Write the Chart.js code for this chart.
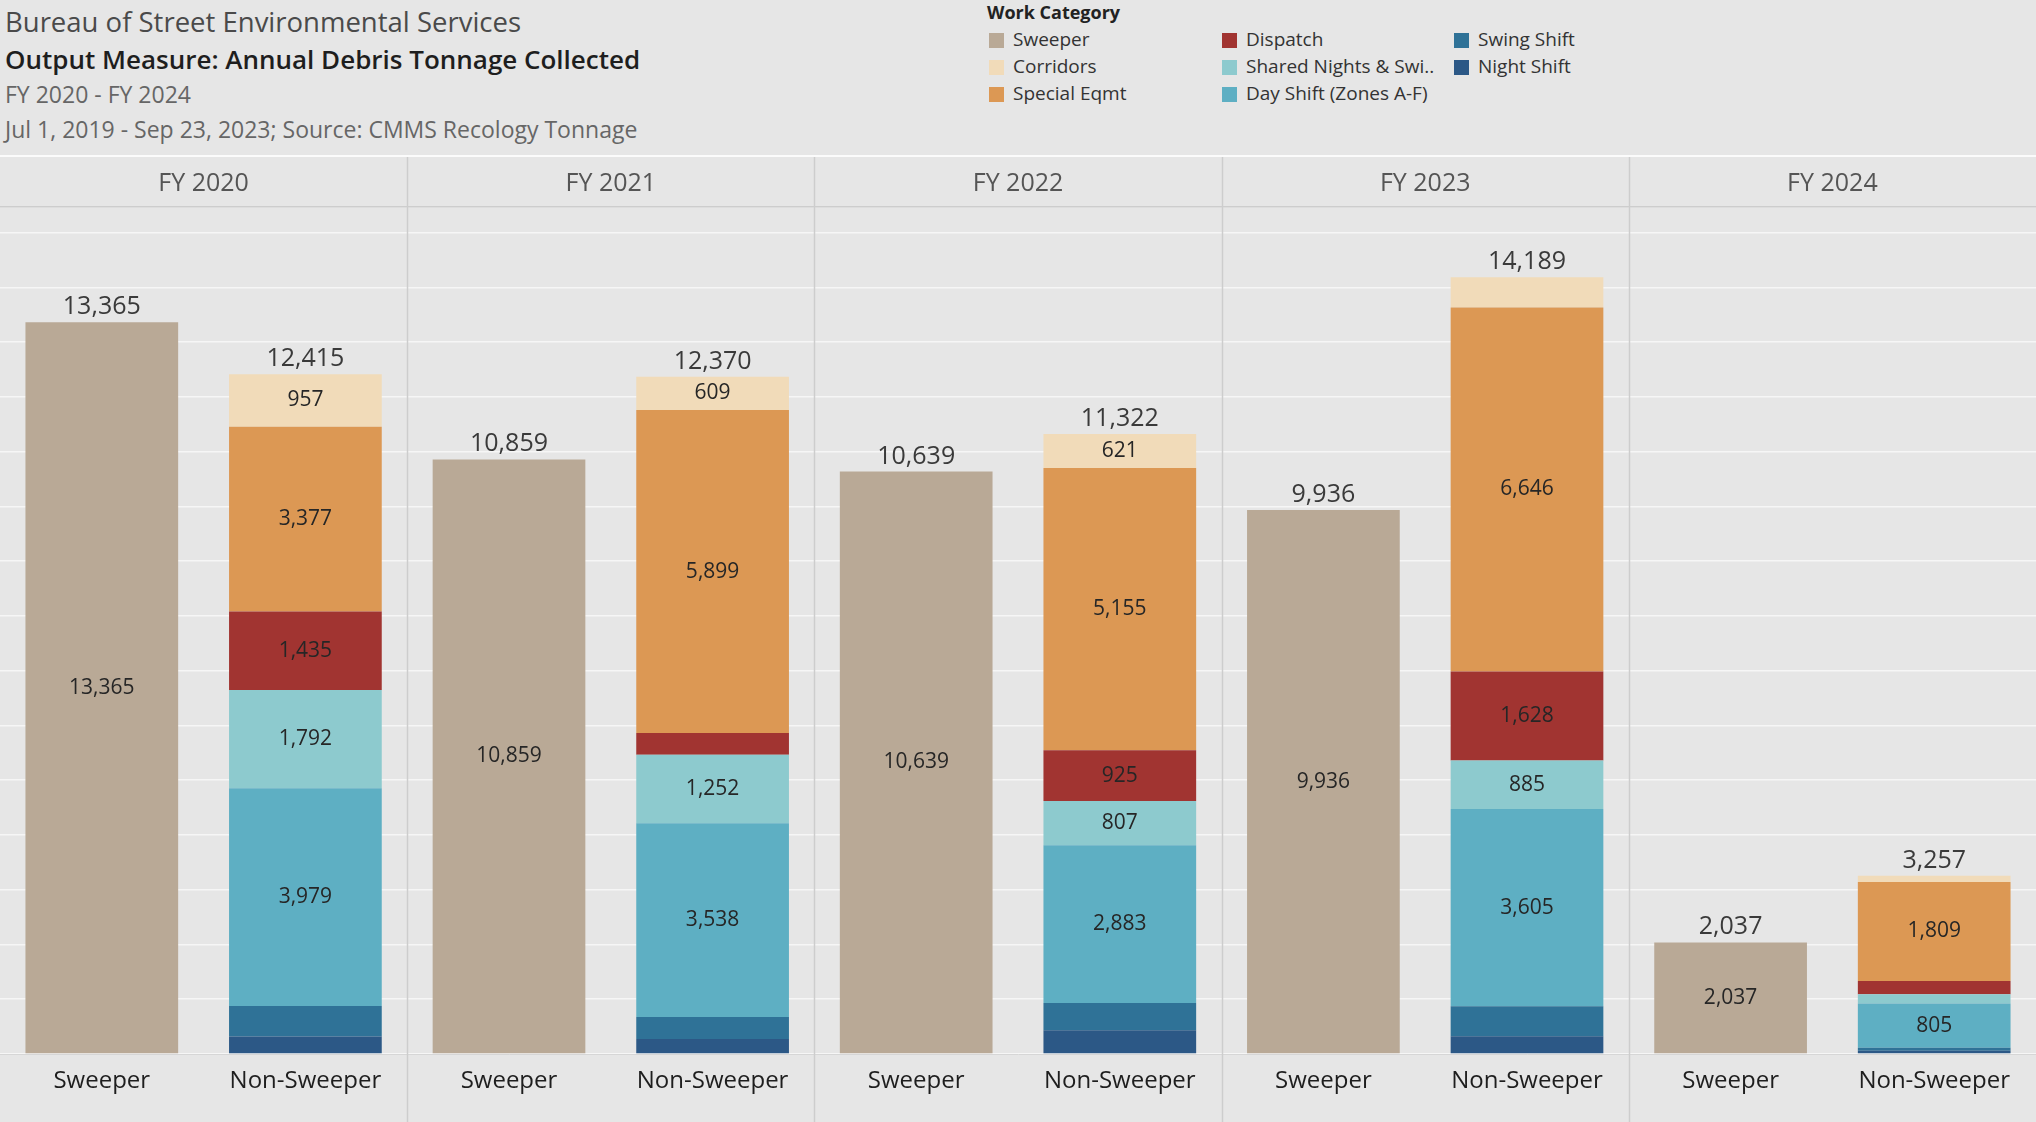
<!DOCTYPE html>
<html>
<head>
<meta charset="utf-8">
<title>Annual Debris Tonnage Collected</title>
<script src="https://cdn.jsdelivr.net/npm/chart.js@4.4.0/dist/chart.umd.min.js"></script>
<style>
  html, body { margin: 0; padding: 0; background: #e6e6e6; width: 2036px; height: 1122px; overflow: hidden; }
  body { position: relative; font-family: 'Open Sans', sans-serif; }
  .t { position: absolute; left: 5px; white-space: nowrap; line-height: 1; }
  #t1 { top: 8px;   font-size: 27.5px; color: #4a4a4a; }
  #t2 { top: 46px;  font-size: 26px; color: #1e1e1e; font-weight: 600; }
  #t3 { top: 83px;  font-size: 23px; color: #666; }
  #t4 { top: 118px; font-size: 23px; color: #666; }
  #legend { position: absolute; left: 987px; top: 0; }
  #legend .head { position: absolute; left: 0; top: 0; font-size: 18px; font-weight: 700; color: #222; white-space: nowrap; }
  #legend .item { position: absolute; white-space: nowrap; font-size: 19px; color: #333; line-height: 22px; }
  #legend .sw { display: inline-block; width: 15px; height: 15px; vertical-align: -2px; margin-right: 9px; }
  #sep { position: absolute; left: 0; top: 155px; width: 2036px; height: 2px; background: #fbfbfb; }
  #wrap { position: absolute; left: 0; top: 157px; width: 2036px; height: 965px; }
</style>
</head>
<body>
<div class="t" id="t1">Bureau of Street Environmental Services</div>
<div class="t" id="t2">Output Measure: Annual Debris Tonnage Collected</div>
<div class="t" id="t3">FY 2020 - FY 2024</div>
<div class="t" id="t4">Jul 1, 2019 - Sep 23, 2023; Source: CMMS Recology Tonnage</div>
<div id="legend"><div class="head">Work Category</div></div>
<div id="sep"></div>
<div id="wrap"><canvas id="chart"></canvas></div>

<script>
// ── Data (tons per fiscal year) ─────────────────────────────────────────────
const fyLabels    = ['FY 2020', 'FY 2021', 'FY 2022', 'FY 2023', 'FY 2024'];
const groupLabels = ['Sweeper', 'Non-Sweeper'];

const sweeperTons      = [13365, 10859, 10639, 9936, 2037];
const corridorsTons    = [957, 609, 621, 555, 115];
const specialEqmtTons  = [3377, 5899, 5155, 6646, 1809];
const dispatchTons     = [1435, 395, 925, 1628, 240];
const sharedNightsTons = [1792, 1252, 807, 885, 172];
const dayShiftTons     = [3979, 3538, 2883, 3605, 805];
const swingShiftTons   = [555, 405, 495, 548, 55];
const nightShiftTons   = [320, 272, 436, 322, 61];

const yTickStep = 1000;
const yMax = 15470;
const segLabelMin = 600;   // smaller segments carry no label

// legend order (column-wise, top to bottom)
const series = [
  { name: 'Sweeper',                 color: '#b9a996', tons: sweeperTons,      group: 0 },
  { name: 'Corridors',               color: '#f1dbb9', tons: corridorsTons,    group: 1 },
  { name: 'Special Eqmt',            color: '#dc9854', tons: specialEqmtTons,  group: 1 },
  { name: 'Dispatch',                color: '#a13431', tons: dispatchTons,     group: 1 },
  { name: 'Shared Nights & Swi..',   color: '#8dcace', tons: sharedNightsTons, group: 1 },
  { name: 'Day Shift (Zones A-F)',   color: '#5eafc3', tons: dayShiftTons,     group: 1 },
  { name: 'Swing Shift',             color: '#2f7297', tons: swingShiftTons,   group: 1 },
  { name: 'Night Shift',             color: '#2c5886', tons: nightShiftTons,   group: 1 },
];

// 10 categories: Sweeper / Non-Sweeper for each FY
const categories = [];
fyLabels.forEach(() => groupLabels.forEach(g => categories.push(g)));

function spread(tons, group) {
  const out = [];
  tons.forEach(v => groupLabels.forEach((_, gi) => out.push(gi === group ? v : null)));
  return out;
}

// stacked bottom-up, so reverse legend order
const datasets = series.slice().reverse().map(s => ({
  label: s.name,
  data: spread(s.tons, s.group),
  backgroundColor: s.color,
  borderWidth: 0,
  barPercentage: 0.75,
  categoryPercentage: 1.0,
}));

// ── HTML legend (3 columns, filled top-down) ───────────────────────────────
const legend = document.getElementById('legend');
const colX = [2, 235, 467];
series.forEach((s, i) => {
  const col = Math.floor(i / 3), row = i % 3;
  const el = document.createElement('div');
  el.className = 'item';
  el.style.left = colX[col] + 'px';
  el.style.top = (28 + row * 27) + 'px';
  el.innerHTML = `<span class="sw" style="background:${s.color}"></span>`;
  el.appendChild(document.createTextNode(s.name));
  legend.appendChild(el);
});

// ── Plugins ─────────────────────────────────────────────────────────────────
const panelDividers = {
  id: 'panelDividers',
  beforeDatasetsDraw(chart) {
    const x = chart.scales.x, ctx = chart.ctx;
    ctx.save();
    ctx.strokeStyle = '#cdcdcd';
    ctx.lineWidth = 1.5;
    for (let k = 1; k < fyLabels.length; k++) {
      const px = Math.round((x.getPixelForValue(2 * k - 1) + x.getPixelForValue(2 * k)) / 2) + 0.5;
      ctx.beginPath();
      ctx.moveTo(px, 0);
      ctx.lineTo(px, chart.height);
      ctx.stroke();
    }
    ctx.restore();
  },
};

const barLabels = {
  id: 'barLabels',
  afterDatasetsDraw(chart) {
    const ctx = chart.ctx, x = chart.scales.x, y = chart.scales.y;
    ctx.save();
    ctx.textAlign = 'center';

    // values inside segments
    ctx.font = "21px 'Open Sans', sans-serif";
    ctx.fillStyle = '#262626';
    ctx.textBaseline = 'middle';
    chart.data.datasets.forEach((ds, di) => {
      chart.getDatasetMeta(di).data.forEach((bar, i) => {
        const v = ds.data[i];
        if (v == null || v < segLabelMin) return;
        ctx.fillText(v.toLocaleString('en-US'), bar.x, (bar.y + bar.base) / 2);
      });
    });

    // stack totals
    ctx.font = "25px 'Open Sans', sans-serif";
    ctx.fillStyle = '#3a3a3a';
    ctx.textBaseline = 'alphabetic';
    categories.forEach((_, i) => {
      const total = chart.data.datasets.reduce((a, ds) => a + (ds.data[i] || 0), 0);
      ctx.fillText(total.toLocaleString('en-US'), x.getPixelForValue(i), y.getPixelForValue(total) - 8);
    });
    ctx.restore();
  },
};

// ── Chart ───────────────────────────────────────────────────────────────────
new Chart(document.getElementById('chart'), {
  type: 'bar',
  data: { labels: categories, datasets },
  plugins: [panelDividers, barLabels],
  options: {
    responsive: true,
    maintainAspectRatio: false,
    animation: false,
    layout: { padding: 0 },
    plugins: {
      legend: { display: false },
      tooltip: { enabled: false },
    },
    scales: {
      x: {
        stacked: true,
        position: 'bottom',
        offset: true,
        grid: { display: false },
        border: { display: true, color: '#d6d6d6', width: 1 },
        ticks: {
          color: '#1e1e1e',
          font: { family: "'Open Sans', sans-serif", size: 24, weight: 500 },
          padding: 5,
          maxRotation: 0,
          autoSkip: false,
        },
        afterFit: s => { s.height = 68; },
      },
      x2: {
        type: 'category',
        position: 'top',
        labels: fyLabels,
        offset: true,
        grid: { display: false, drawTicks: false },
        border: { display: true, color: '#cdcdcd', width: 1.5 },
        ticks: {
          color: '#555',
          font: { family: "'Open Sans', sans-serif", size: 25 },
          padding: 8,
          maxRotation: 0,
        },
        afterFit: s => { s.height = 50; },
      },
      y: {
        stacked: true,
        beginAtZero: true,
        max: yMax,
        border: { display: false },
        grid: { color: '#f6f6f6', lineWidth: 1.5, drawTicks: false },
        ticks: { display: false, stepSize: yTickStep, maxTicksLimit: 50 },
        afterFit: s => { s.width = 0; },
      },
    },
  },
});
</script>
</body>
</html>
